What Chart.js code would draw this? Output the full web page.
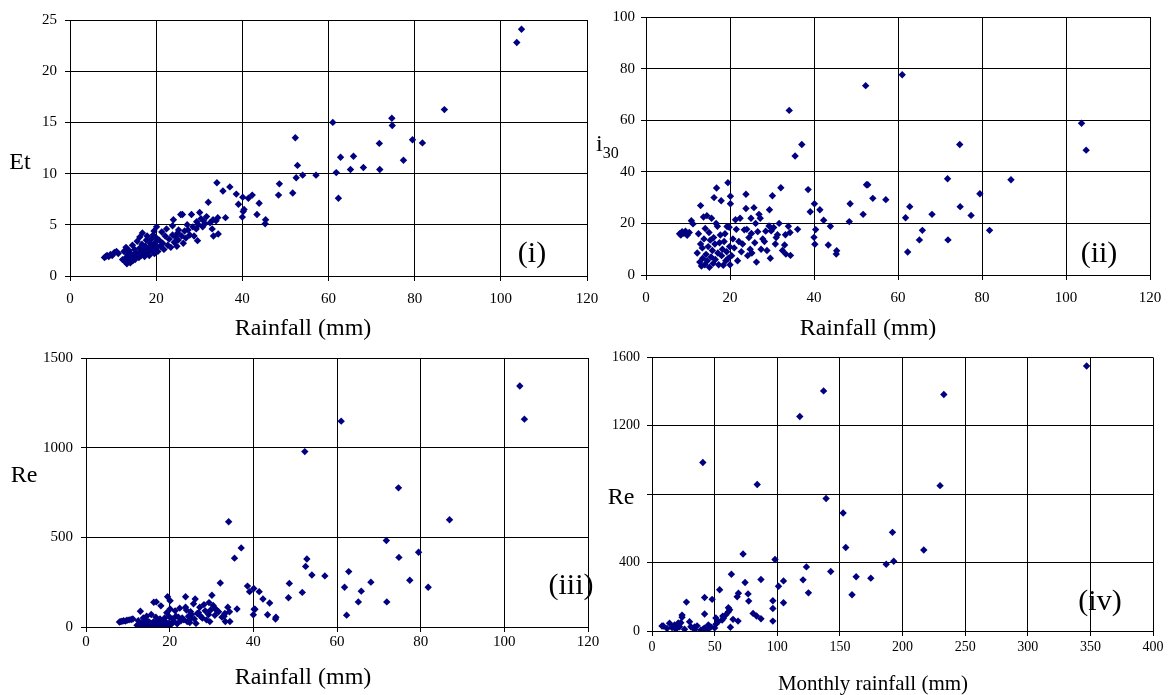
<!DOCTYPE html>
<html><head><meta charset="utf-8">
<script src="https://cdn.jsdelivr.net/npm/chart.js@4.4.1/dist/chart.umd.min.js"></script>
<style>
html,body{margin:0;padding:0;background:#fff;}
body{width:1168px;height:695px;position:relative;overflow:hidden;font-family:'Liberation Serif','Times New Roman',serif;color:#000;}
canvas{position:absolute;}
.t{position:absolute;transform:translate(-50%,-50%);white-space:nowrap;line-height:1;}
.l{position:absolute;white-space:nowrap;line-height:1;}
</style></head><body>
<canvas id="c1"></canvas><canvas id="c2"></canvas><canvas id="c3"></canvas><canvas id="c4"></canvas>
<div class="t" style="left:20px;top:161px;font-size:24px;">Et</div>
<div class="t" style="left:303px;top:327px;font-size:24px;">Rainfall (mm)</div>
<div class="t" style="left:532px;top:252px;font-size:30px;">(i)</div>
<div class="l" style="left:596px;top:131px;font-size:24px;">i<span style="font-size:16px;position:relative;top:7px;">30</span></div>
<div class="t" style="left:868px;top:327px;font-size:24px;">Rainfall (mm)</div>
<div class="t" style="left:1099px;top:252px;font-size:30px;">(ii)</div>
<div class="t" style="left:24px;top:474px;font-size:24px;">Re</div>
<div class="t" style="left:571px;top:584px;font-size:30px;">(iii)</div>
<div class="t" style="left:303px;top:676px;font-size:24px;">Rainfall (mm)</div>
<div class="t" style="left:621px;top:496px;font-size:24px;">Re</div>
<div class="t" style="left:1100px;top:600px;font-size:30px;">(iv)</div>
<div class="t" style="left:873px;top:683px;font-size:21px;">Monthly rainfall (mm)</div>
<script>
// Storm events (shared rainfall for panels i-iii)
const rainfall = [
8.0, 8.3, 8.6, 9.0, 9.4, 9.8, 10.3, 10.8, 11.2,
12.2, 12.5, 12.8, 13.0, 13.0, 13.2, 13.4, 13.5, 13.7, 13.8,
14.0, 14.1, 14.3, 14.5, 14.6, 14.8, 15.0, 15.1, 15.3, 15.5,
15.6, 15.8, 16.0, 16.1, 16.2, 16.4, 16.5, 16.7, 16.8, 17.0,
17.1, 17.3, 17.5, 17.7, 17.9, 18.0, 18.2, 18.4, 18.6, 18.8,
19.0, 19.2, 19.3, 19.5, 19.6, 19.8, 19.9, 20.0, 20.1, 20.1,
20.4, 20.7, 21.0, 21.3, 21.5, 21.8, 22.1, 22.4, 22.7, 23.0,
23.4, 23.8, 23.8, 24.0, 24.2, 24.5, 24.8, 25.0, 25.1, 25.2,
25.7, 25.9, 26.1, 26.3, 26.6, 26.9, 27.2, 27.4, 27.8, 28.2, 28.5,
28.8, 29.3, 29.4, 29.6, 29.8, 30.1, 30.4, 30.8, 31.0, 31.3,
31.7, 32.1, 32.5, 33.0, 33.2, 33.3, 33.9, 34.1, 34.3, 34.4,
35.5, 36.1, 37.1, 38.6, 39.1, 40.0, 40.1, 40.2, 40.4, 41.4, 42.3, 43.4, 43.9, 45.3, 45.4,
48.4, 48.6, 51.7, 52.3, 52.5, 52.8, 54.0, 57.1,
61.0, 61.8, 62.3, 62.8, 65.1, 65.8, 68.1, 71.8, 71.9, 74.7, 74.8, 77.4, 79.5, 81.8, 86.9, 103.7, 104.8
];
const et = [
1.8, 1.9, 2.0, 1.9, 2.1, 2.0, 2.3, 2.4, 2.2,
1.6, 2.4, 1.4, 2.8, 1.8, 1.2, 2.1, 1.5, 2.5, 1.9,
1.3, 2.2, 1.7, 3.0, 1.5, 2.0, 2.6, 1.6, 2.3, 1.9,
3.4, 2.1, 1.8, 2.7, 3.8, 2.4, 2.0, 3.1, 4.2, 2.2,
2.6, 1.9, 2.9, 3.5, 3.9, 2.3, 2.7, 2.0, 3.2, 3.6,
2.5, 2.9, 4.0, 4.4, 2.2, 3.3, 2.7, 3.0, 4.8, 3.7,
2.4, 3.5, 2.9, 4.3, 3.2, 2.6, 3.9, 4.6, 3.0, 3.6,
2.8, 4.9, 4.0, 5.5, 3.3, 3.8, 2.9, 4.2, 3.5, 4.5,
6.0, 3.9, 6.0, 3.2, 4.4, 3.7, 5.0, 4.5, 4.0, 6.0, 4.8,
3.9, 4.6, 5.3, 3.45, 5.0, 6.2, 5.6, 4.8, 5.4, 5.1,
5.8, 7.2, 5.2, 4.6, 5.5, 3.9, 5.4, 9.1, 5.7, 4.1,
8.3, 5.7, 8.7, 8.0, 7.0, 5.75, 7.7, 6.3, 6.5, 7.6, 7.9, 6.0, 7.1, 5.1, 5.5,
7.9, 9.0, 8.1, 13.5, 9.6, 10.8, 9.85, 9.85,
15.0, 10.1, 7.6, 11.6, 10.4, 11.7, 10.6, 12.95, 10.4, 15.4, 14.7, 11.3, 13.3, 13.0, 16.25, 22.8, 24.1
];
const i30 = [
16.0, 15.5, 16.8, 16.2, 17.0, 15.4, 16.5, 21.0, 19.8,
8.5, 16.0, 5.0, 26.9, 12.0, 3.5, 10.5, 6.5, 22.5, 14.0,
4.0, 18.0, 8.0, 23.0, 5.5, 11.0, 16.5, 3.0, 13.5, 7.0,
22.0, 9.5, 4.5, 14.5, 30.0, 12.0, 6.0, 20.0, 33.7, 18.9,
8.5, 4.0, 12.5, 15.5, 28.8, 7.5, 10.0, 3.8, 13.0, 16.0,
5.5, 9.0, 18.8, 35.8, 6.5, 18.5, 11.0, 4.0, 30.5, 27.6,
7.5, 14.0, 10.5, 21.4, 17.7, 5.5, 13.0, 22.0, 9.0, 12.0,
17.5, 31.3, 25.8, 17.7, 7.5, 14.5, 10.0, 22.0, 16.1, 8.5,
26.1, 12.5, 20.0, 5.0, 16.8, 23.5, 22.0, 10.0, 14.0, 13.0, 17.0,
9.5, 19.0, 25.3, 6.5, 17.1, 30.7, 18.4, 12.0, 14.5, 15.6,
20.0, 33.8, 9.5, 11.6, 15.6, 8.1, 18.9, 63.8, 16.5, 7.6,
46.1, 17.7, 50.6, 33.1, 24.5, 14.6, 27.6, 11.9, 17.6, 25.3, 21.2, 11.6, 18.9, 8.1, 9.4,
20.7, 27.6, 23.5, 73.4, 35.0, 35.0, 29.7, 29.2,
77.6, 22.2, 8.9, 26.5, 13.6, 17.3, 23.5, 37.3, 13.6, 50.6, 26.5, 23.1, 31.5, 17.3, 36.9, 58.8, 48.4
];
const re = [
28, 30, 32, 35, 33, 38, 40, 42, 45,
10, 35, 8, 88, 15, 3, 20, 6, 50, 25,
4, 40, 12, 60, 7, 18, 30, 5, 22, 10,
70, 15, 6, 28, 138, 20, 9, 55, 140, 35,
14, 5, 26, 45, 118, 12, 20, 4, 30, 50,
10, 25, 80, 169, 8, 60, 22, 12, 146, 100,
15, 45, 30, 90, 60, 18, 55, 105, 35, 50,
40, 169, 110, 95, 30, 60, 25, 85, 50, 70,
130, 45, 156, 20, 75, 80, 110, 60, 50, 125, 90,
40, 70, 136, 30, 95, 177, 120, 65, 100, 90,
85, 245, 55, 60, 75, 31, 110, 587, 85, 31,
384, 100, 441, 228, 197, 68, 215, 99, 99, 197, 156, 68, 134, 45, 55,
163, 243, 193, 978, 338, 379, 290, 285,
1148, 222, 66, 309, 140, 200, 250, 482, 140, 776, 388, 261, 417, 222, 598, 1344, 1159
];
// Monthly totals (panel iv)
const monthlyRainfall = [8, 9, 12, 14, 16, 18, 19, 21, 22, 23, 24, 24, 26, 27.5, 30, 31, 34, 34, 36, 39, 41, 42, 40.6, 42, 42, 44, 45, 47, 48, 50, 51, 51, 53, 54, 56.5, 56, 57, 59, 61, 61, 62, 62.6, 63.4, 64.7, 68.7, 68, 69, 72.7, 74.3, 76.7, 77.2, 80.7, 84, 83.5, 87, 87, 96.5, 96.5, 96.5, 98.2, 101, 105, 105, 118, 120.6, 123.3, 124.9, 137, 139, 142.7, 152.6, 154.7, 159.7, 163, 174.7, 187, 192, 193, 217, 230, 233, 347];
const monthlyRe = [29, 29, 15, 45, 20, 35, 10, 47, 25, 48, 93, 80, 10, 169, 54, 25, 23, 8, 30, 6, 12, 17, 985, 196, 99, 4, 35, 23, 185, 18, 76, 40, 55, 241, 87, 64, 75, 95, 136, 112, 124, 22, 332, 68, 58, 200, 221, 450, 284, 217, 175, 103, 857, 88, 72, 301, 177, 132, 58, 418, 262, 293, 165, 1254, 299, 375, 223, 1404, 775, 348, 690, 488, 212, 317, 309, 390, 577, 408, 474, 850, 1383, 1550];
// Tick label hidden behind the "Re" title in panel (iv)
const hiddenTicksIV = [800];

const FONT = "'Liberation Serif', 'Times New Roman', serif";
const plain = v => String(v);
function panel(id, plot, xs, ys, xr, yr, opt) {
  const L = 80, T = 15, R = 30, B = 50;
  const cv = document.getElementById(id);
  cv.width = plot.r - plot.l + L + R;
  cv.height = plot.b - plot.t + T + B;
  cv.style.left = (plot.l - L) + 'px';
  cv.style.top = (plot.t - T) + 'px';
  const pts = xs.map((x, i) => ({x: x, y: ys[i]}));
  const grid = {color: '#000', lineWidth: 1, tickLength: 5, tickColor: '#000', drawTicks: true};
  const hide = opt.hide || [];
  new Chart(cv.getContext('2d'), {
    type: 'scatter',
    data: {datasets: [{data: pts, pointStyle: 'rectRot', pointRadius: 3.7, borderWidth: 0,
      backgroundColor: '#000080', borderColor: '#000080'}]},
    options: {
      responsive: false, animation: false, events: [],
      layout: {padding: {top: T, right: R, left: 0, bottom: 0}},
      plugins: {legend: {display: false}, tooltip: {enabled: false}},
      scales: {
        x: {type: 'linear', min: xr[0], max: xr[1],
          ticks: {stepSize: xr[2], color: '#000', font: {family: FONT, size: opt.fs}, padding: opt.xpad, maxRotation: 0, autoSkip: false, callback: plain},
          grid: grid, border: {color: '#000', width: 1},
          afterFit: s => { s.height = B; }},
        y: {type: 'linear', min: yr[0], max: yr[1],
          ticks: {stepSize: yr[2], color: '#000', font: {family: FONT, size: opt.fs}, padding: opt.ypad,
            callback: v => hide.includes(v) ? '' : String(v)},
          grid: grid, border: {color: '#000', width: 1},
          afterFit: s => { s.width = L; }}
      }
    }
  });
}
panel('c1', {l: 70, t: 18, r: 587, b: 276}, rainfall, et, [0, 120, 20], [0, 25, 5], {fs: 15, xpad: 9, ypad: 8});
panel('c2', {l: 646, t: 17, r: 1150, b: 275}, rainfall, i30, [0, 120, 20], [0, 100, 20], {fs: 15, xpad: 9, ypad: 6});
panel('c3', {l: 86, t: 356, r: 588, b: 627}, rainfall, re, [0, 120, 20], [0, 1500, 500], {fs: 15, xpad: 1, ypad: 8});
panel('c4', {l: 652, t: 357, r: 1153, b: 631}, monthlyRainfall, monthlyRe, [0, 400, 50], [0, 1600, 400], {fs: 14, xpad: 3, ypad: 7, hide: hiddenTicksIV});
</script>
</body></html>
